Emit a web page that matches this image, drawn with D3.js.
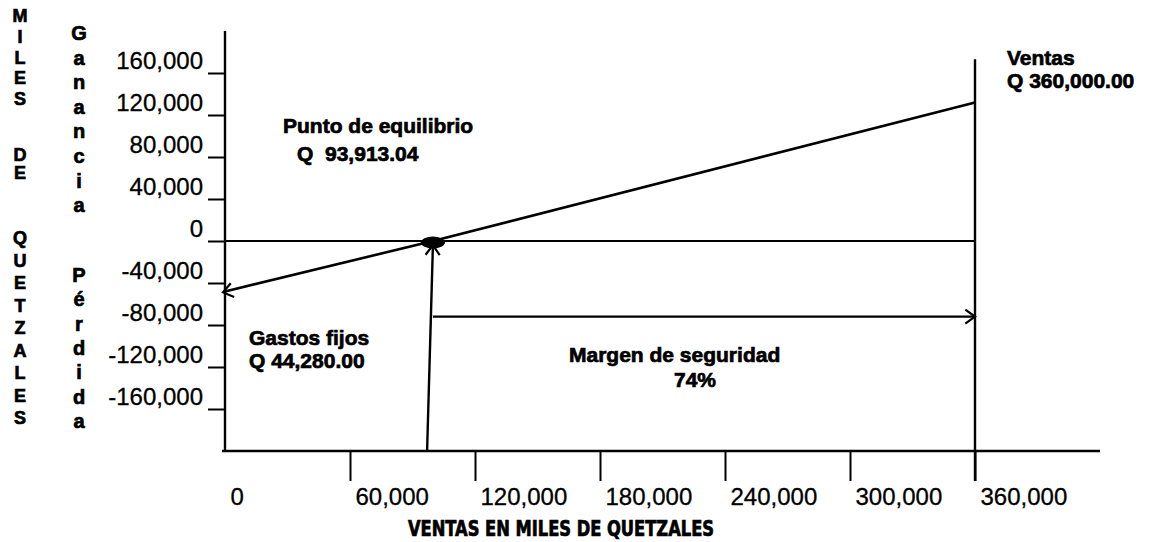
<!DOCTYPE html>
<html>
<head>
<meta charset="utf-8">
<script src="https://cdn.jsdelivr.net/npm/d3@7"></script>
<style>
	html, body { margin: 0; padding: 0; background: #fff; }
	svg { display: block; font-family: "Liberation Sans", Arial, sans-serif; }
	.bold { font-weight: bold; stroke: #000; stroke-width: 0.7px; }
</style>
</head>
<body>
<svg id="chart" width="1149" height="542"></svg>
<script>
// Tick values of both axes.
var xTicks = [ 0, 60000, 120000, 180000, 240000, 300000, 360000 ];
var yTicks = [ 160000, 120000, 80000, 40000, 0, -40000, -80000, -120000, -160000 ];

// Sales / profit line: from fixed cost at 0 sales, through the break-even, up to total sales.
var lineSales = [ 0, 99800, 360000 ];
var lineProfit = [ -48000, 0, 132000 ];

// Break-even point and the arrows hanging off it.
var breakEvenSales = 99800;
var breakEvenArrowBase = 97000;
var totalSales = 360000;
var totalSalesTop = 173000;
var marginProfit = -72000;

// Axis extents.
var xAxisEnd = 420000;
var yAxisTop = 200000;
var yAxisBottom = -200000;

// Texts.
var leftTitleWords = [ 'MILES', 'DE', 'QUETZALES' ];
var profitWord = 'Ganancia';
var lossWord = 'Pérdida';
var xTitle = 'VENTAS EN MILES DE QUETZALES';
var breakEvenLabel = [ 'Punto de equilibrio', 'Q  93,913.04' ];
var salesLabel = [ 'Ventas', 'Q 360,000.00' ];
var fixedCostLabel = [ 'Gastos fijos', 'Q 44,280.00' ];
var marginLabel = [ 'Margen de seguridad', '74%' ];

var svg = d3.select( '#chart' );

var x = d3.scaleLinear().domain( [ 0, 360000 ] ).range( [ 225, 975 ] );
var y = d3.scaleLinear().domain( [ -160000, 160000 ] ).range( [ 409, 73 ] );

var locale = d3.formatLocale( { decimal: '.', thousands: ',', grouping: [ 3 ], currency: [ '', '' ], minus: '-' } );
var fmt = locale.format( ',' );

var ink = '#000';

// Y axis.
var yAxis = svg.append( 'g' )
	.attr( 'transform', 'translate(' + x( 0 ) + ',0)' )
	.call( d3.axisLeft( y ).tickValues( yTicks ).tickSize( 17 ).tickPadding( 5 ).tickFormat( fmt ) );
yAxis.select( '.domain' ).remove();
yAxis.selectAll( 'line' ).attr( 'stroke', ink ).attr( 'stroke-width', 2 );
yAxis.selectAll( 'text' )
	.attr( 'fill', ink )
	.attr( 'stroke', ink ).attr( 'stroke-width', 0.3 )
	.attr( 'font-size', 24 )
	.attr( 'font-family', '"Liberation Sans", Arial, sans-serif' )
	.attr( 'dy', '-0.2em' );

svg.append( 'line' )
	.attr( 'x1', x( 0 ) ).attr( 'x2', x( 0 ) )
	.attr( 'y1', y( yAxisTop ) ).attr( 'y2', y( yAxisBottom ) )
	.attr( 'stroke', ink ).attr( 'stroke-width', 2.4 );

// X axis.
var xAxis = svg.append( 'g' )
	.attr( 'transform', 'translate(0,' + y( yAxisBottom ) + ')' )
	.call( d3.axisBottom( x ).tickValues( xTicks ).tickSize( 30 ).tickPadding( 5 ).tickFormat( fmt ) );
xAxis.select( '.domain' ).remove();
xAxis.selectAll( 'line' )
	.attr( 'stroke', ink ).attr( 'stroke-width', 2 )
	.filter( function ( d ) { return d === 0; } ).remove();
xAxis.selectAll( 'text' )
	.attr( 'fill', ink )
	.attr( 'stroke', ink ).attr( 'stroke-width', 0.3 )
	.attr( 'font-size', 24 )
	.attr( 'font-family', '"Liberation Sans", Arial, sans-serif' )
	.attr( 'text-anchor', 'start' )
	.attr( 'x', 5 )
	.attr( 'y', 37 );

svg.append( 'line' )
	.attr( 'x1', x( 0 ) - 3 ).attr( 'x2', x( xAxisEnd ) )
	.attr( 'y1', y( yAxisBottom ) ).attr( 'y2', y( yAxisBottom ) )
	.attr( 'stroke', ink ).attr( 'stroke-width', 2.4 );

// Zero line.
svg.append( 'line' )
	.attr( 'x1', x( 0 ) ).attr( 'x2', x( totalSales ) )
	.attr( 'y1', y( 0 ) ).attr( 'y2', y( 0 ) )
	.attr( 'stroke', ink ).attr( 'stroke-width', 2.2 );

// Total sales vertical.
svg.append( 'line' )
	.attr( 'x1', x( totalSales ) ).attr( 'x2', x( totalSales ) )
	.attr( 'y1', y( totalSalesTop ) ).attr( 'y2', y( yAxisBottom ) + 30 )
	.attr( 'stroke', ink ).attr( 'stroke-width', 2.4 );

// Open arrow head drawn at a tip, pointing away from (fx, fy).
function arrowHead( tx, ty, fx, fy ) {
	var a = Math.atan2( ty - fy, tx - fx );
	var len = 12, spread = Math.PI / 5;
	var p = d3.path();
	p.moveTo( tx - len * Math.cos( a - spread ), ty - len * Math.sin( a - spread ) );
	p.lineTo( tx, ty );
	p.lineTo( tx - len * Math.cos( a + spread ), ty - len * Math.sin( a + spread ) );
	svg.append( 'path' )
		.attr( 'd', p.toString() )
		.attr( 'fill', 'none' )
		.attr( 'stroke', ink ).attr( 'stroke-width', 2.2 );
}

// Sales / profit line.
var salesPoints = lineSales.map( function ( s, i ) { return [ s, lineProfit[i] ]; } );
var line = d3.line()
	.x( function ( d ) { return x( d[0] ); } )
	.y( function ( d ) { return y( d[1] ); } );
svg.append( 'path' )
	.attr( 'd', line( salesPoints ) )
	.attr( 'fill', 'none' )
	.attr( 'stroke', ink ).attr( 'stroke-width', 2.6 );
arrowHead( x( lineSales[0] ) - 2, y( lineProfit[0] ) + 1, x( lineSales[1] ), y( lineProfit[1] ) );

// Vertical arrow up to the break-even point.
svg.append( 'line' )
	.attr( 'x1', x( breakEvenArrowBase ) ).attr( 'x2', x( breakEvenSales ) )
	.attr( 'y1', y( yAxisBottom ) ).attr( 'y2', y( -4000 ) )
	.attr( 'stroke', ink ).attr( 'stroke-width', 2.4 );
arrowHead( x( breakEvenSales ), y( -4000 ), x( breakEvenArrowBase ), y( yAxisBottom ) );

// Margin of safety arrow.
svg.append( 'line' )
	.attr( 'x1', x( breakEvenSales ) ).attr( 'x2', x( totalSales ) )
	.attr( 'y1', y( marginProfit ) ).attr( 'y2', y( marginProfit ) )
	.attr( 'stroke', ink ).attr( 'stroke-width', 2.2 );
arrowHead( x( totalSales ), y( marginProfit ), x( breakEvenSales ), y( marginProfit ) );

// Break-even dot.
svg.append( 'ellipse' )
	.attr( 'cx', x( breakEvenSales ) ).attr( 'cy', y( 0 ) + 1.5 )
	.attr( 'rx', 12 ).attr( 'ry', 6 )
	.attr( 'fill', ink );

// Annotation texts.
function label( lines, tx, ty, step, anchor ) {
	svg.append( 'g' ).selectAll( 'text' )
		.data( lines )
		.enter()
		.append( 'text' )
		.attr( 'class', 'bold' )
		.attr( 'x', function ( d, i ) { return Array.isArray( tx ) ? tx[i] : tx; } )
		.attr( 'y', function ( d, i ) { return ty + step * i; } )
		.attr( 'dominant-baseline', 'central' )
		.attr( 'text-anchor', anchor || 'start' )
		.attr( 'font-size', 21 )
		.style( 'white-space', 'pre' )
		.text( function ( d ) { return d; } );
}
label( breakEvenLabel, [ 283, 297 ], 125, 28 );
label( salesLabel, 1007, 57, 23 );
label( fixedCostLabel, 249, 337, 23 );
label( [ marginLabel[0] ], 569, 354, 0 );
label( [ marginLabel[1] ], 695, 379, 0, 'middle' );

// X axis title.
svg.append( 'text' )
	.attr( 'class', 'bold' )
	.attr( 'x', 408 ).attr( 'y', 529 )
	.attr( 'dominant-baseline', 'central' )
	.attr( 'font-family', '"Liberation Sans Narrow", "DejaVu Sans Condensed", Arial, sans-serif' )
	.attr( 'font-size', 21 )
	.attr( 'textLength', 306 )
	.attr( 'lengthAdjust', 'spacingAndGlyphs' )
	.text( xTitle );

// Vertical stacked letters on the left.
function stack( word, cx, y0, step, size ) {
	svg.append( 'g' ).selectAll( 'text' )
		.data( Array.from( word ) )
		.enter()
		.append( 'text' )
		.attr( 'class', 'bold' )
		.attr( 'x', cx )
		.attr( 'y', function ( d, i ) { return y0 + step * i; } )
		.attr( 'text-anchor', 'middle' )
		.attr( 'dominant-baseline', 'central' )
		.attr( 'font-size', size )
		.text( function ( d ) { return d; } );
}
stack( leftTitleWords[0], 20, 16, 20.8, 18 );
stack( leftTitleWords[1], 20, 155, 18, 18 );
stack( leftTitleWords[2], 20, 238, 22.5, 18 );
stack( profitWord, 79, 33, 24.6, 20 );
stack( lossWord, 79, 275, 24.3, 20 );
</script>
</body>
</html>
